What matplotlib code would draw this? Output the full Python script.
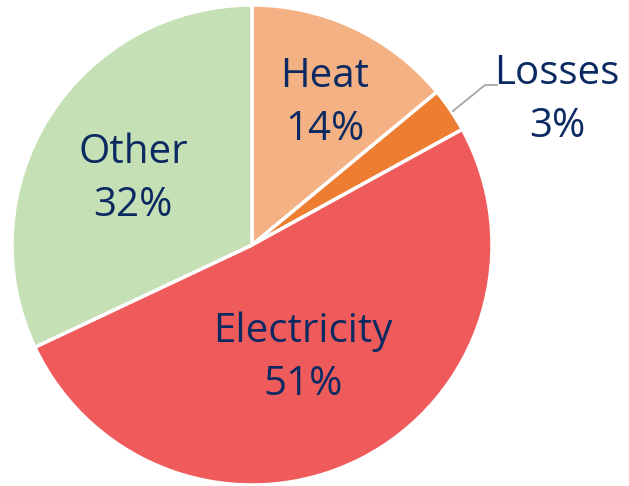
import matplotlib.pyplot as plt

labels = ["Heat", "Losses", "Electricity", "Other"]
shares = [14, 3, 51, 32]
colors = ["#F4B183", "#ED7D31", "#EF5B5B", "#C5E0B4"]

plt.rcParams['font.family'] = ['Open Sans', 'DejaVu Sans']
txt_color = "#0C2A62"

fig = plt.figure(figsize=(6.29, 4.86), dpi=100)
# pie centre ~ (252, 245) px, radius ~240 px
ax = fig.add_axes([(252 - 241) / 629, (486 - 245 - 241) / 486, 482 / 629, 482 / 486])
ax.pie(shares, colors=colors, startangle=90, counterclock=False,
       wedgeprops=dict(edgecolor="white", linewidth=2.5), radius=240 / 241)
ax.set_xlim(-1, 1)
ax.set_ylim(-1, 1)
ax.set_aspect("equal")
ax.set_clip_on(False)


def px(x, y):
    return (x - 252) / 241, (245 - y) / 241


fs = 29
label_pos = {"Heat": (325, 103), "Other": (133, 179), "Electricity": (303, 358)}
for name, val in zip(labels, shares):
    if name in label_pos:
        x, y = px(*label_pos[name])
        ax.text(x, y, f"{name}\n{val}%", ha="center", va="center", fontsize=fs,
                color=txt_color, linespacing=1.42)

# losses label sits outside with a leader line
x, y = px(557, 100)
ax.text(x, y, f"{labels[1]}\n{shares[1]}%", ha="center", va="center", fontsize=fs,
        color=txt_color, linespacing=1.42, clip_on=False)
p1, p2, p3 = px(453, 111), px(485, 85), px(497, 85)
ax.plot([p1[0], p2[0], p3[0]], [p1[1], p2[1], p3[1]], color="#A6A6A6", lw=1.3,
        clip_on=False)

fig.savefig("out.png", dpi=100)
